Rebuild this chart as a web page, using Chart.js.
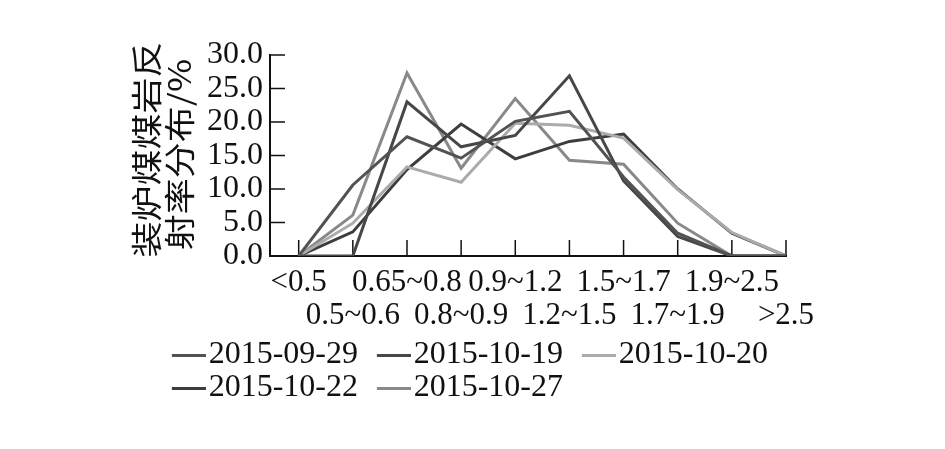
<!DOCTYPE html>
<html>
<head>
<meta charset="utf-8">
<script src="https://cdn.jsdelivr.net/npm/chart.js@4.4.0/dist/chart.umd.min.js"></script>
<style>
  html, body { margin: 0; padding: 0; background: #fff; }
</style>
</head>
<body>
<canvas id="chart" width="945" height="449" style="display:block;width:945px;height:449px"></canvas>
<script>
const xLabels = ['<0.5', '0.5~0.6', '0.65~0.8', '0.8~0.9', '0.9~1.2', '1.2~1.5', '1.5~1.7', '1.7~1.9', '1.9~2.5', '>2.5'];
const yTicks = [0, 5, 10, 15, 20, 25, 30];
const seriesNames = ['2015-09-29', '2015-10-19', '2015-10-20', '2015-10-22', '2015-10-27'];
const s0929 = [0, 10.6, 17.8, 14.6, 20.1, 21.6, 11.8, 3.4, 0, 0];
const s1019 = [0, 0, 23.0, 16.3, 18.0, 26.9, 11.2, 2.9, 0, 0];
const s1020 = [0, 4.9, 13.3, 11.0, 19.8, 19.5, 17.6, 9.9, 3.5, 0];
const s1022 = [0, 3.6, 12.9, 19.7, 14.5, 17.1, 18.2, 10.0, 3.4, 0];
const s1027 = [0, 6.1, 27.3, 13.1, 23.5, 14.3, 13.7, 4.9, 0, 0];
const seriesColors = ['#525252', '#474747', '#ababab', '#3d3d3d', '#898989'];
const yTitle = ['装炉煤煤岩反', '射率分布/%'];

const ink = '#111';
const serif = 'Liberation Serif';

// legend swatch: transparent on the left, short bar on the right
function swatch(color) {
  const c = document.createElement('canvas');
  c.width = 65;
  c.height = 3;
  const g = c.getContext('2d');
  g.fillStyle = color;
  g.fillRect(31, 0, 34, 3);
  return c;
}

// small tick marks pointing into the plot
const innerTicks = {
  id: 'innerTicks',
  beforeDatasetsDraw(chart) {
    const { ctx, chartArea: a, scales: { x, y } } = chart;
    ctx.save();
    ctx.strokeStyle = ink;
    ctx.lineWidth = 1.5;
    ctx.beginPath();
    x.ticks.forEach(t => {
      const px = x.getPixelForValue(t.value);
      ctx.moveTo(px, a.bottom);
      ctx.lineTo(px, a.bottom - 16);
    });
    y.ticks.forEach(t => {
      if (t.value === 0) return;
      const py = y.getPixelForValue(t.value);
      ctx.moveTo(a.left, py);
      ctx.lineTo(a.left + 15, py);
    });
    ctx.stroke();
    ctx.restore();
  }
};

// two-line rotated y title, glyphs a little narrow across the column
const yTitlePlugin = {
  id: 'yTitle',
  afterDraw(chart) {
    const { ctx, chartArea: a } = chart;
    const mid = (a.top + a.bottom) / 2;
    const cols = [[a.left - 124, mid - 6], [a.left - 91, mid - 1]];
    ctx.save();
    ctx.fillStyle = ink;
    ctx.font = '36px "Noto Sans CJK SC"';
    ctx.textAlign = 'center';
    ctx.textBaseline = 'middle';
    yTitle.forEach((line, i) => {
      ctx.save();
      ctx.translate(cols[i][0], cols[i][1]);
      ctx.rotate(-Math.PI / 2);
      ctx.scale(1, 0.85);
      ctx.fillText(line, 0, 0);
      ctx.restore();
    });
    ctx.restore();
  }
};

const allSeries = [s0929, s1019, s1020, s1022, s1027];

new Chart(document.getElementById('chart'), {
  type: 'line',
  data: {
    datasets: seriesNames.map((name, i) => ({
      label: name,
      data: allSeries[i].map((v, k) => ({ x: k, y: v })),
      borderColor: seriesColors[i],
      backgroundColor: seriesColors[i],
      borderWidth: 3,
      pointRadius: 0,
      tension: 0,
      fill: false
    }))
  },
  options: {
    responsive: false,
    animation: false,
    devicePixelRatio: 1,
    layout: { padding: { left: 153, right: 0, top: 55, bottom: 35 } },
    scales: {
      x: {
        type: 'linear',
        min: -0.53,
        max: 9,
        afterBuildTicks: s => { s.ticks = xLabels.map((_, i) => ({ value: i })); },
        afterFit: s => { s.height = 82; },
        grid: { display: false, drawTicks: false },
        border: { display: true, color: ink, width: 2 },
        ticks: {
          autoSkip: false,
          maxRotation: 0,
          padding: 10,
          color: ink,
          font: { family: serif, size: 31, lineHeight: 33 / 31 },
          callback: v => (v % 2 === 0 ? [xLabels[v], ''] : ['', xLabels[v]])
        }
      },
      y: {
        min: 0,
        max: 30,
        afterBuildTicks: s => { s.ticks = yTicks.map(v => ({ value: v })); },
        afterFit: s => { s.width = 117; },
        grid: { display: false, drawTicks: false },
        border: { display: true, color: ink, width: 2 },
        ticks: {
          autoSkip: false,
          padding: 7,
          color: ink,
          font: { family: serif, size: 32 },
          callback: v => v.toFixed(1)
        }
      },
      yRight: {
        axis: 'y',
        position: 'right',
        display: true,
        grid: { display: false, drawTicks: false },
        border: { display: false },
        ticks: { display: false },
        afterFit: s => { s.width = 159; }
      }
    },
    plugins: {
      legend: {
        position: 'bottom',
        align: 'start',
        labels: {
          font: { family: serif, size: 32 },
          color: ink,
          padding: 1,
          usePointStyle: true,
          pointStyleWidth: 38.7,
          boxHeight: 32,
          generateLabels(chart) {
            const items = Chart.defaults.plugins.legend.labels.generateLabels(chart);
            items.forEach(it => {
              it.pointStyle = swatch(seriesColors[it.datasetIndex]);
              it.fontColor = ink;
            });
            return items;
          }
        }
      },
      tooltip: { enabled: false }
    }
  },
  plugins: [innerTicks, yTitlePlugin]
});
</script>
</body>
</html>
